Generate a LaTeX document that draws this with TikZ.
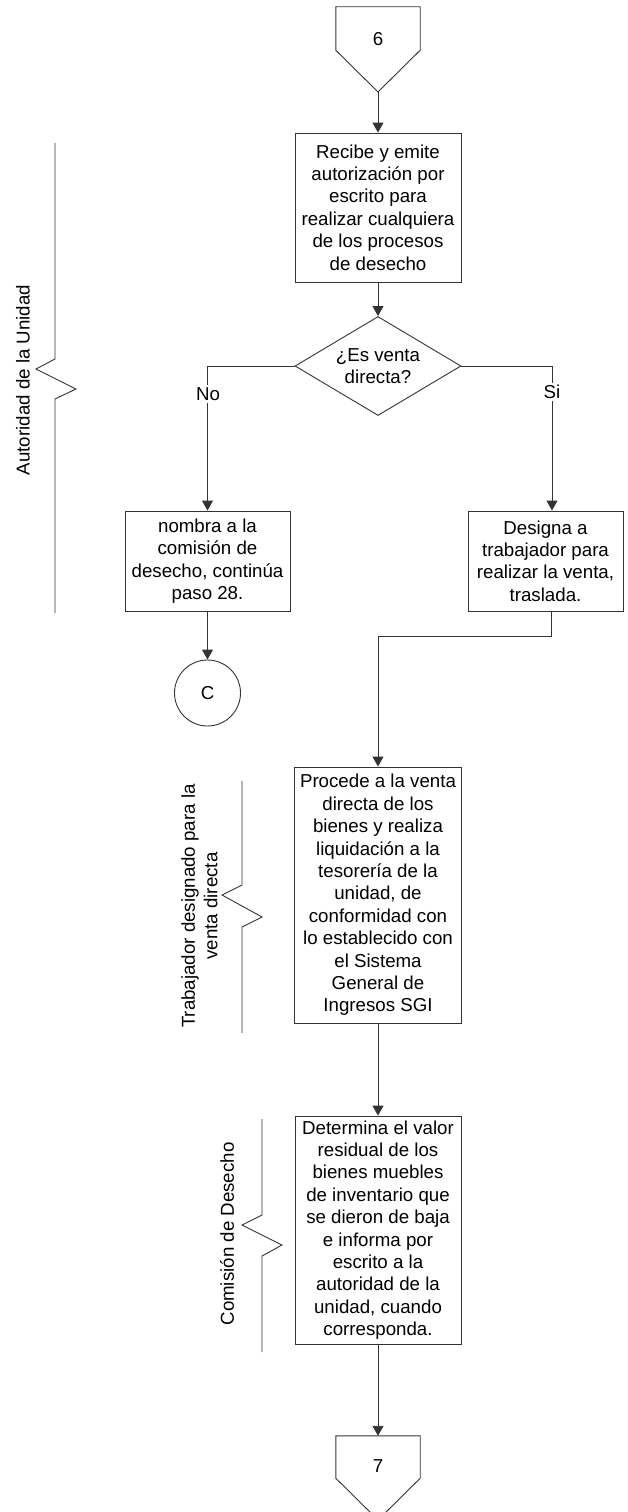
\documentclass[tikz,border=0pt]{standalone}
\usepackage{fontspec}
\setmainfont{Liberation Sans}
\usetikzlibrary{shapes.geometric,arrows.meta,calc}
\begin{document}
\begin{tikzpicture}[x=1pt,y=-1pt,
  every node/.style={font=\fontsize{18.7}{22.4}\selectfont, text=black},
  ln/.style={draw=black!80, line width=0.9pt},
  arr/.style={ln, -{Triangle[length=10pt,width=11pt]}},
  procbox/.style={ln, rectangle, inner sep=0pt, align=center},
  lbl/.style={fill=white, inner sep=2.5pt},
  offpage/.style={rectangle, inner sep=0pt, minimum width=84pt, minimum height=43pt}
]
\useasboundingbox (0,0) rectangle (627,1512);

% off-page connector 6
\node[offpage] (c6) at (378,28.5) {};
\coordinate (c6tip) at (378,92);
\draw[ln] (c6.north west) -- (c6.north east) -- (c6.south east) -- (c6tip) -- (c6.south west) -- cycle;
\node (c6t) at (378,39) {6};

% process boxes
\node[procbox, minimum width=166pt, minimum height=149pt] (b1) at (378,207.5)
  {Recibe y emite\\autorización por\\escrito para\\realizar cualquiera\\de los procesos\\de desecho};
\node[ln, diamond, aspect=1.68, inner sep=0pt, minimum width=166pt, minimum height=99pt, align=center] (d) at (378,366)
  {¿Es venta\\directa?};
\node[procbox, minimum width=165pt, minimum height=100pt] (lb) at (207.5,561)
  {nombra a la\\comisión de\\desecho, continúa\\paso 28.};
\node[procbox, minimum width=155pt, minimum height=100pt] (rb) at (545.5,561)
  {Designa a\\trabajador para\\realizar la venta,\\traslada.};
\node[ln, circle, minimum size=66pt, inner sep=0pt] (cc) at (207.5,693) {C};
\node[procbox, minimum width=167pt, minimum height=256pt] (b3) at (378,895)
  {Procede a la venta\\directa de los\\bienes y realiza\\liquidación a la\\tesorería de la\\unidad, de\\conformidad con\\lo establecido con\\el Sistema\\General de\\Ingresos SGI};
\node[procbox, minimum width=166pt, minimum height=228pt] (b4) at (378,1230)
  {Determina el valor\\residual de los\\bienes muebles\\de inventario que\\se dieron de baja\\e informa por\\escrito a la\\autoridad de la\\unidad, cuando\\corresponda.};

% off-page connector 7
\node[offpage, minimum height=42pt] (c7) at (378,1457) {};
\coordinate (c7tip) at (378,1520);
\draw[ln] (c7.north west) -- (c7.north east) -- (c7.south east) -- (c7tip) -- (c7.south west) -- cycle;
\node (c7t) at (378,1466) {7};

% connectors
\draw[arr] (c6tip) -- (b1.north);
\draw[arr] (b1.south) -- (d.north);
\draw[arr] (d.west) -| (lb.north);
\draw[arr] (d.east) -| ($(rb.north)+(6.5,0)$);
\node[lbl] (no) at (208,394) {No};
\node[lbl] (si) at (552,392) {Si};
\draw[arr] (lb.south) -- (cc.north);
\draw[arr] ($(rb.south)+(5.5,0)$) -- ++(0,25) -| (b3.north);
\draw[arr] (b3.south) -- (b4.north);
\draw[arr] (b4.south) -- (c7.north);

% swimlane braces
\draw[ln] (55,143) -- (55,359) -- (36,369) -- (76,389) -- (55,399) -- (55,613);
\draw[ln] (242,781) -- (242,885) -- (222,895) -- (262,917) -- (242,927) -- (242,1033);
\draw[ln] (262,1119) -- (262,1215) -- (242,1225) -- (282,1245) -- (262,1256) -- (262,1352);

\node[rotate=90] (la) at (23,380) {Autoridad de la Unidad};
\node[rotate=90, align=center] (lt) at (199.5,906) {Trabajador designado para la\\venta directa};
\node[rotate=90] (lc) at (227,1234) {Comisión de Desecho};
\end{tikzpicture}
\end{document}
